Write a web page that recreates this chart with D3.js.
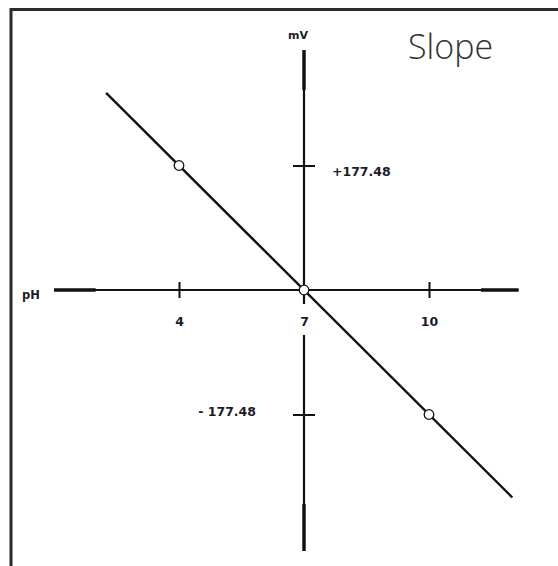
<!DOCTYPE html>
<html><head><meta charset="utf-8">
<script src="https://cdn.jsdelivr.net/npm/d3@7"></script>
<style>
html,body{margin:0;padding:0;background:#fff;}
svg{display:block;}
</style></head>
<body>
<script>
// Data
const phTicks = [4, 7, 10];
const phTickLabels = ["4", "7", "10"];
const mvTicks = [177.48, -177.48];
const mvTickLabels = ["+177.48", "- 177.48"];
const phValues = [4, 7, 10];
const mvValues = [177.48, 0, -177.48];
const fitRange = [2.25, 12];          // pH range of the drawn slope line
const phAxisExtent = [1.0, 12.15];    // horizontal axis extent (pH)
const mvAxisExtent = [-372, 342];     // vertical axis extent (mV)
const slope = -177.48 / 3;            // mV per pH

const W = 558, H = 566;
const svg = d3.select("body").append("svg").attr("width", W).attr("height", H);

const x = d3.scaleLinear().domain([4, 10]).range([179, 429]);
const y = d3.scaleLinear().domain([-177.48, 177.48]).range([414.5, 165.5]);

// frame
svg.append("path").attr("d", `M11,566 L11,9.5 L558,9.5`)
  .attr("fill", "none").attr("stroke", "#2b2b2b").attr("stroke-width", 3);

const ink = "#111";
const x0 = x(7), y0 = y(0);

// horizontal axis (thin middle, thick ends)
const hx1 = x(phAxisExtent[0]), hx2 = x(phAxisExtent[1]);
svg.append("line").attr("x1", hx1).attr("x2", hx2).attr("y1", y0).attr("y2", y0)
  .attr("stroke", ink).attr("stroke-width", 2.2);
svg.append("line").attr("x1", hx1).attr("x2", x(2.0)).attr("y1", y0).attr("y2", y0)
  .attr("stroke", ink).attr("stroke-width", 3.6);
svg.append("line").attr("x1", x(11.25)).attr("x2", hx2).attr("y1", y0).attr("y2", y0)
  .attr("stroke", ink).attr("stroke-width", 3.6);

// vertical axis
const vy1 = y(mvAxisExtent[1]), vy2 = y(mvAxisExtent[0]);
svg.append("line").attr("x1", x0).attr("x2", x0).attr("y1", vy1).attr("y2", vy2)
  .attr("stroke", ink).attr("stroke-width", 2.2);
svg.append("line").attr("x1", x0).attr("x2", x0).attr("y1", vy1).attr("y2", y(285))
  .attr("stroke", ink).attr("stroke-width", 3.4);
svg.append("line").attr("x1", x0).attr("x2", x0).attr("y1", y(-305)).attr("y2", vy2)
  .attr("stroke", ink).attr("stroke-width", 3.4);
// white gap behind the "7" label
svg.append("rect").attr("x", x0 - 8).attr("y", y0 + 14).attr("width", 16).attr("height", 31)
  .attr("fill", "#fff");

const labelFont = "'DejaVu Sans', Verdana, sans-serif";

// pH axis ticks via d3 axis
const xAxis = d3.axisBottom(x).tickValues(phTicks).tickSize(8)
  .tickFormat((d, i) => phTickLabels[i]);
const gx = svg.append("g").attr("transform", `translate(0,${y0})`).call(xAxis);
gx.select(".domain").remove();
gx.selectAll(".tick line").attr("y1", -8).attr("y2", 8)
  .attr("stroke", ink).attr("stroke-width", 2)
  .filter(d => d === 7).remove();
gx.selectAll(".tick text").attr("y", 36).attr("dy", 0)
  .attr("font-family", labelFont).attr("font-weight", "bold").attr("font-size", 12.5)
  .attr("fill", "#1c1c28");

// mV axis ticks via d3 axis
const yAxis = d3.axisRight(y).tickValues(mvTicks).tickSize(11)
  .tickFormat((d, i) => mvTickLabels[i]);
const gy = svg.append("g").attr("transform", `translate(${x0},0)`).call(yAxis);
gy.select(".domain").remove();
gy.selectAll(".tick line").attr("x1", -11).attr("x2", 11)
  .attr("stroke", ink).attr("stroke-width", 2);
gy.selectAll(".tick text")
  .attr("font-family", labelFont).attr("font-weight", "bold").attr("font-size", 12.5)
  .attr("fill", "#1c1c28")
  .each(function(d) {
    const t = d3.select(this);
    if (d > 0) t.attr("x", 28).attr("dy", 0).attr("y", 10).attr("text-anchor", "start");
    else t.attr("x", -48).attr("dy", 0).attr("y", 1).attr("text-anchor", "end");
  });

// slope line
const lineData = fitRange.map(p => [p, slope * (p - 7)]);
svg.append("path").datum(lineData)
  .attr("d", d3.line().x(d => x(d[0])).y(d => y(d[1])))
  .attr("fill", "none").attr("stroke", ink).attr("stroke-width", 2.4);

// points
svg.selectAll("circle.pt").data(phValues.map((p, i) => [p, mvValues[i]]))
  .enter().append("circle").attr("class", "pt")
  .attr("cx", d => x(d[0])).attr("cy", d => y(d[1])).attr("r", 4.8)
  .attr("fill", "#fff").attr("stroke", ink).attr("stroke-width", 1.3);

// axis titles
svg.append("text").attr("x", 298).attr("y", 39).attr("text-anchor", "middle")
  .attr("font-family", labelFont).attr("font-weight", "bold").attr("font-size", 11)
  .attr("fill", "#1c1c28").text("mV");
svg.append("text").attr("x", 22).attr("y", 299)
  .attr("font-family", labelFont).attr("font-weight", "bold").attr("font-size", 11.5)
  .attr("fill", "#1c1c28").text("pH");

// title
svg.append("text").attr("x", 408).attr("y", 59)
  .attr("font-family", "'Open Sans', 'Noto Sans', sans-serif").attr("font-weight", 300)
  .attr("font-size", 34).attr("fill", "#333").text("Slope");
</script>
</body></html>
